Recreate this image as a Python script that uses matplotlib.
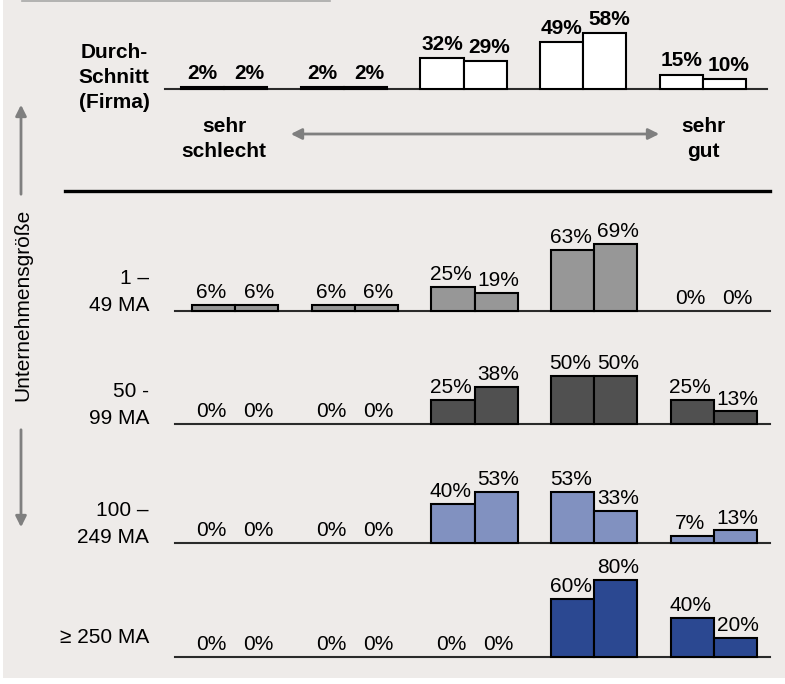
import numpy as np
import matplotlib.pyplot as plt
from matplotlib.patches import Rectangle

plt.rcParams['font.family'] = ['Liberation Sans', 'DejaVu Sans']

# answer scale (sehr schlecht ... sehr gut), two bars per level
levels = ['sehr schlecht', '', '', '', 'sehr gut']

avg_a = [2, 2, 32, 49, 15]
avg_b = [2, 2, 29, 58, 10]

ma_1_49_a = [6, 6, 25, 63, 0]
ma_1_49_b = [6, 6, 19, 69, 0]
ma_50_99_a = [0, 0, 25, 50, 25]
ma_50_99_b = [0, 0, 38, 50, 13]
ma_100_249_a = [0, 0, 40, 53, 7]
ma_100_249_b = [0, 0, 53, 33, 13]
ma_250_a = [0, 0, 0, 60, 40]
ma_250_b = [0, 0, 0, 80, 20]

row_labels = ['1 –\n49 MA', '50 -\n99 MA', '100 –\n249 MA', '≥ 250 MA']
row_colors = ['#979797', '#505050', '#8191c0', '#2b4891']

BG = '#eeebe9'
W, H = 785, 684
GAP = 119.75        # px between answer groups
PX_PCT = 0.965      # px per percent
AX_H = 95           # px height of each row axes
BW = 0.36
FS = 15

fig = plt.figure(figsize=(W / 100, H / 100), dpi=100, facecolor='white')

# overlay in pixel coords for decorations
ax0 = fig.add_axes([0, 0, 1, 1])
ax0.set_xlim(0, W); ax0.set_ylim(H, 0)
ax0.axis('off')
ax0.add_patch(Rectangle((3, 0), W - 3, 678, facecolor=BG, edgecolor='none', zorder=0))
ax0.plot([22, 330], [0.5, 0.5], color='#a8a8a8', lw=1.2)


def bar_row(baseline, left, right, x0, a, b, color, bold=False):
    ax = fig.add_axes([left / W, (H - baseline) / H, (right - left) / W, AX_H / H])
    ax.set_xlim((left - x0) / GAP, (right - x0) / GAP)
    ax.set_ylim(0, AX_H / PX_PCT)
    ax.patch.set_alpha(0)
    for s in ['top', 'left', 'right']:
        ax.spines[s].set_visible(False)
    ax.spines['bottom'].set_color('#2a2a2a')
    ax.spines['bottom'].set_linewidth(1.5)
    ax.set_xticks([]); ax.set_yticks([])
    x = np.arange(len(a))
    fw = 'bold' if bold else 'normal'
    off = 5.8 if bold else 5.0
    dx1, dx2 = (0, 3) if bold else (-1.5, 1.5)
    for xs, vals, dx in [(x - BW / 2, a, dx1), (x + BW / 2, b, dx2)]:
        ax.bar(xs, vals, BW, color=color, edgecolor='black',
               lw=[1.5 if v > 0 else 0 for v in vals], zorder=3, clip_on=False)
        for xi, v in zip(xs, vals):
            ax.annotate(f'{v}%', (xi, v), xytext=(dx, off), textcoords='offset points',
                        ha='center', va='baseline', fontsize=FS, fontweight=fw,
                        annotation_clip=False)
    return ax


# top row: average (Firma)
bar_row(89, 165, 767, 224, avg_a, avg_b, 'white', bold=True)
for y, s in [(58, 'Durch-'), (83, 'Schnitt'), (108, '(Firma)')]:
    ax0.text(114, y, s, ha='center', va='baseline', fontsize=FS, fontweight='bold')
for x, top, bottom in [(224, 'sehr', 'schlecht'), (703, 'sehr', 'gut')]:
    ax0.text(x, 132, top, ha='center', va='baseline', fontsize=FS, fontweight='bold')
    ax0.text(x, 157, bottom, ha='center', va='baseline', fontsize=FS, fontweight='bold')
ax0.annotate('', xy=(288, 134), xytext=(662, 134),
             arrowprops=dict(arrowstyle='<|-|>', color='#7f7f7f', lw=2, mutation_scale=16))
ax0.plot([65, 770], [191, 191], color='black', lw=2.4)

# company size rows
baselines = [311, 424, 543, 657]
row_a = [ma_1_49_a, ma_50_99_a, ma_100_249_a, ma_250_a]
row_b = [ma_1_49_b, ma_50_99_b, ma_100_249_b, ma_250_b]
for bl, lab, col, a, b in zip(baselines, row_labels, row_colors, row_a, row_b):
    bar_row(bl, 175, 770, 235, a, b, col)
    lines = lab.split('\n')
    if len(lines) == 2:
        ax0.text(149, bl - 27, lines[0], ha='right', va='baseline', fontsize=FS)
        ax0.text(149, bl, lines[1], ha='right', va='baseline', fontsize=FS)
    else:
        ax0.text(149, bl - 14, lines[0], ha='right', va='baseline', fontsize=FS)

# vertical axis label with arrows
ax0.text(23, 305, 'Unternehmensgröße', rotation=90, ha='center', va='center', fontsize=FS)
ax0.annotate('', xy=(21, 102), xytext=(21, 197),
             arrowprops=dict(arrowstyle='-|>', color='#7f7f7f', lw=2, mutation_scale=16))
ax0.annotate('', xy=(21, 530), xytext=(21, 427),
             arrowprops=dict(arrowstyle='-|>', color='#7f7f7f', lw=2, mutation_scale=16))

fig.savefig('out.png', dpi=100, facecolor=fig.get_facecolor())
